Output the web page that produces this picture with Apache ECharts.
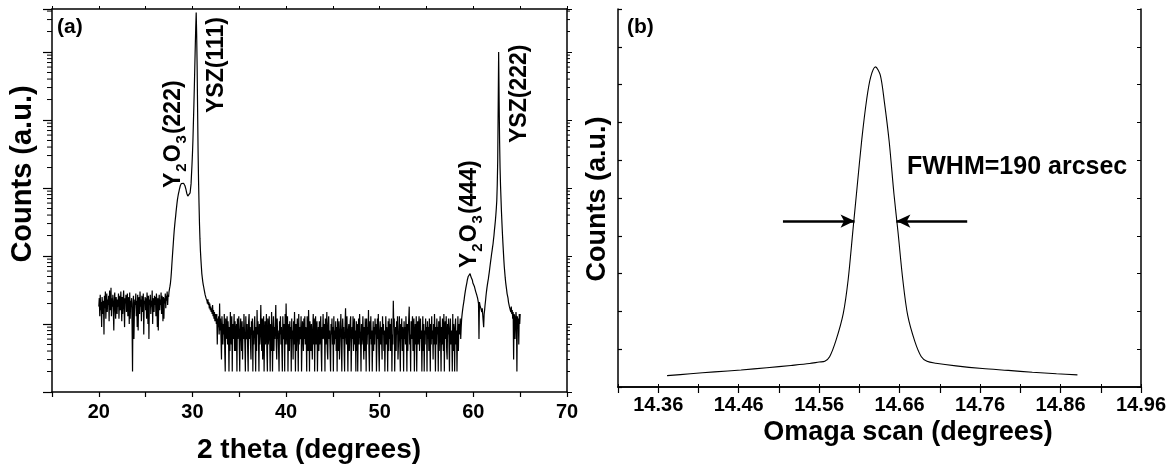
<!DOCTYPE html>
<html>
<head>
<meta charset="utf-8">
<script src="https://cdn.jsdelivr.net/npm/echarts@6/dist/echarts.min.js"></script>
<style>
html,body{margin:0;padding:0;background:#fff;}
#chart{width:1175px;height:468px;}
</style>
</head>
<body>
<div id="chart"></div>
<script>
// ---------- Panel (a): XRD 2theta scan ----------
const THETA_START = 20;      // first 2theta of the scan (deg)
const THETA_STEP = 0.05;     // scan step (deg)
const countsA = [
  // 20.00 - 27.45 : background
  18,24,13,27,16,21,9,25,19,14,
  22,7,26,17,30,12,20,28,15,23,
  19,26,11,31,21,16,34,13,24,18,
  27,15,8,22,29,17,12,25,20,14,
  23,18,28,12,21,26,16,30,19,11,
  25,14,22,31,17,9,24,20,27,15,
  21,28,13,19,25,10,29,12,22,18,
  24,10,2,20,26,6,15,23,19,28,
  13,22,9,27,8,21,25,14,30,18,
  23,11,26,19,15,28,7,22,20,25,
  16,24,12,29,21,10,26,6,23,19,
  27,14,22,18,31,10,24,20,15,26,
  19,25,13,28,22,9,24,8,21,27,
  16,23,19,29,14,26,21,11,25,12,
  24,20,28,17,26,22,30,19,27,25,
  // 27.50 - 31.50 : Y2O3(222) + YSZ(111)
  30,33,36,40,47,58,75,95,120,150,
  190,235,280,330,380,450,520,600,680,750,
  820,880,950,1010,1080,1120,1160,1185,1200,1205,
  1190,1175,1150,1120,1080,1020,960,890,830,790,
  760,745,740,760,800,850,900,1150,1600,2200,
  3200,5000,9000,16000,30000,60000,120000,230000,380000,180000,
  60000,14000,3500,1300,600,300,180,120,90,70,
  55,48,42,38,35,32,30,27,26,24,
  23,
  // 31.55 - 58.60 : background
  22,20,23,19,21,17,20,16,18,15,
  17,14,19,13,16,12,15,11,14,13,
  10,14,5,12,9,13,7,20,8,12,
  6,3,13,9,5,10,7,14,4,2,
  12,6,8,13,5,11,7,2,9,4,
  15,7,5,13,2,10,6,8,14,4,
  11,4,7,10,2,12,6,9,13,5,
  2,8,12,7,4,11,3,9,6,14,
  8,5,2,13,7,6,10,4,2,11,
  14,6,9,5,3,11,7,12,2,8,
  5,10,13,6,2,9,4,16,7,11,
  6,2,10,5,8,19,7,4,12,3,
  9,13,2,6,11,5,8,14,4,2,
  12,5,7,13,6,2,10,4,15,8,
  2,7,13,4,9,6,11,19,5,3,
  12,6,8,4,2,11,7,13,5,9,
  4,2,13,7,6,10,2,14,5,20,
  8,5,13,2,7,10,4,11,6,9,
  2,12,6,8,3,11,5,15,7,2,
  10,4,8,12,6,2,14,5,9,6,
  7,13,2,5,11,8,4,12,6,13,
  5,9,7,2,13,6,4,16,8,2,
  11,7,4,10,6,3,9,14,5,12,
  2,8,13,5,7,11,2,6,9,4,
  11,5,8,13,4,2,9,6,14,7,
  6,10,2,12,5,8,15,4,3,10,
  13,6,8,4,2,10,7,12,5,9,
  2,13,5,8,6,11,4,9,2,12,
  7,4,11,3,6,9,14,5,2,8,
  12,6,9,4,2,10,17,7,5,13,
  6,2,8,10,4,7,11,13,2,5,
  9,6,13,4,7,12,5,8,2,11,
  4,10,2,7,12,5,14,8,6,2,
  10,5,7,13,6,3,9,4,12,8,
  2,12,5,9,7,16,4,2,11,6,
  13,5,8,2,6,11,4,9,5,12,
  7,10,2,5,12,6,14,4,2,8,
  11,5,9,6,3,13,7,10,4,8,
  2,6,13,5,9,7,2,11,4,12,
  6,10,4,8,12,2,7,5,22,9,
  12,2,6,9,4,11,7,13,3,5,
  8,13,5,2,10,6,12,4,9,7,
  2,11,6,9,5,13,7,2,10,4,
  8,12,18,5,7,2,11,6,9,13,
  4,8,12,2,6,10,5,13,2,7,
  11,5,9,13,4,7,12,6,8,2,
  6,13,4,10,2,8,5,12,7,9,
  2,11,6,9,4,12,7,2,10,5,
  13,6,8,3,10,5,14,7,2,9,
  5,12,7,9,2,11,4,8,13,6,
  2,9,5,12,7,4,14,2,8,11,
  6,13,4,3,10,7,12,5,2,9,
  12,5,8,6,2,14,4,10,7,2,
  9,12,5,8,2,6,13,4,10,7,
  9,12,
  // 58.65 - 65.00 : Y2O3(444) + YSZ(222)
  6,9,12,14,16,18,20,
  22,25,28,31,34,37,40,44,46,50,
  52,47,48,55,56,49,50,46,44,40,
  38,42,36,34,35,30,31,27,26,24,
  22,20,6,21,19,20,17,18,15,17,
  16,11,9,14,16,19,22,26,30,34,
  38,42,46,52,58,66,75,85,95,108,
  120,135,150,175,200,240,280,330,400,500,
  650,1100,2500,15000,100000,20000,5000,2000,1100,700,
  450,310,220,160,120,90,70,58,48,41,
  36,32,28,26,24,21,20,18,17,19,
  15,18,14,16,12,15,3,14,13,6,
  10,15,12,2,13,9,12,5,14,10,
  14
];
const xTicksA = [20, 30, 40, 50, 60, 70];

// ---------- Panel (b): omega rocking curve ----------
const omega = [14.371,14.40,14.43,14.463,14.495,14.525,14.548,14.560,14.567,14.573,
  14.581,14.590,14.596,14.602,14.607,14.613,14.619,14.624,14.630,14.636,
  14.641,14.647,14.653,14.658,14.664,14.670,14.679,14.687,14.694,14.705,
  14.73,14.763,14.795,14.825,14.855,14.881];
const countsB = [0.30,0.35,0.40,0.45,0.51,0.57,0.62,0.66,0.68,0.80,
  1.24,1.95,2.83,4.15,5.25,6.55,7.60,8.20,8.47,8.25,
  7.55,6.50,5.10,4.10,2.83,1.90,1.20,0.80,0.68,0.63,
  0.56,0.49,0.44,0.39,0.35,0.32];
const xTicksB = ['14.36','14.46','14.56','14.66','14.76','14.86','14.96'];
const FWHM_LEVEL = 4.39;
const FWHM_LEFT = 14.604, FWHM_RIGHT = 14.656;
const FWHM_TEXT = 'FWHM=190 arcsec';

// ---------- build ----------
const FONT = '"Liberation Sans", Arial, sans-serif';
const xrdData = countsA.map((c, i) => [+(THETA_START + i * THETA_STEP).toFixed(2), c]);
const rockData = omega.map((o, i) => [o, countsB[i]]);

const A_MIN = 1, A_MAX = 4.29e5;
const logMinor = [];
for (let d = 0; d <= 5; d++) for (let k = 2; k <= 9; k++) {
  const v = k * Math.pow(10, d);
  if (v < A_MAX) logMinor.push([15, v]);
}

const chart = echarts.init(document.getElementById('chart'), null, {renderer: 'canvas'});
const black = '#000';
const lbl = {color: black, fontFamily: FONT, fontWeight: 'bold', fontSize: 20};

const option = {
  backgroundColor: '#fff',
  animation: false,
  grid: [
    {left: 52, top: 9, right: 608, bottom: 76},
    {left: 618, top: 9, right: 34, bottom: 81}
  ],
  xAxis: [
    {gridIndex: 0, type: 'value', min: 15, max: 70, interval: 5, position: 'bottom',
     axisLine: {lineStyle: {color: black, width: 1.5}},
     axisTick: {inside: false, length: 5, lineStyle: {color: black, width: 1.2}},
     axisLabel: Object.assign({}, lbl, {margin: 10,
       formatter: v => xTicksA.indexOf(Math.round(v)) >= 0 && Math.abs(v - Math.round(v)) < 1e-6 ? String(Math.round(v)) : ''}),
     splitLine: {show: false}},
    {gridIndex: 0, type: 'value', min: 15, max: 70, interval: 5, position: 'top',
     axisLine: {lineStyle: {color: black, width: 1.5}},
     axisTick: {inside: false, length: 3, lineStyle: {color: black, width: 1}},
     axisLabel: {show: false}, splitLine: {show: false}},
    {gridIndex: 1, type: 'value', min: 14.31, max: 14.96, interval: 0.05, position: 'bottom',
     axisLine: {lineStyle: {color: black, width: 1.5}},
     axisTick: {inside: false, length: 6, lineStyle: {color: black, width: 1.2}},
     axisLabel: Object.assign({}, lbl, {margin: 8, formatter: v => {
       const s = v.toFixed(2);
       return xTicksB.indexOf(s) >= 0 ? s : '';
     }}),
     splitLine: {show: false}},
    {gridIndex: 1, type: 'value', min: 14.31, max: 14.96, interval: 0.05, position: 'top',
     axisLine: {lineStyle: {color: black, width: 1.5}},
     axisTick: {inside: false, length: 3, lineStyle: {color: black, width: 1}},
     axisLabel: {show: false}, splitLine: {show: false}}
  ],
  yAxis: [
    {gridIndex: 0, type: 'log', logBase: 10, min: A_MIN, max: A_MAX, position: 'left',
     axisLine: {show: true, lineStyle: {color: black, width: 1.5}},
     axisTick: {show: true, inside: false, length: 9, lineStyle: {color: black, width: 1.2}},
     axisLabel: {show: false}, splitLine: {show: false}},
    {gridIndex: 0, type: 'log', logBase: 10, min: A_MIN, max: A_MAX, position: 'right',
     axisLine: {show: true, lineStyle: {color: black, width: 1.5}},
     axisTick: {show: true, inside: false, length: 5, lineStyle: {color: black, width: 1}},
     axisLabel: {show: false}, splitLine: {show: false}},
    {gridIndex: 1, type: 'value', min: 0, max: 10, interval: 1, position: 'left',
     axisLine: {show: true, lineStyle: {color: black, width: 1.5}},
     axisTick: {show: true, inside: true, length: 4, lineStyle: {color: black, width: 1.2}},
     axisLabel: {show: false}, splitLine: {show: false}},
    {gridIndex: 1, type: 'value', min: 0, max: 10, interval: 1, position: 'right',
     axisLine: {show: true, lineStyle: {color: black, width: 1.5}},
     axisTick: {show: true, inside: true, length: 4, lineStyle: {color: black, width: 1}},
     axisLabel: {show: false}, splitLine: {show: false}}
  ],
  series: [
    {type: 'line', xAxisIndex: 0, yAxisIndex: 0, data: xrdData, showSymbol: false,
     lineStyle: {color: black, width: 1.2}, silent: true, clip: true},
    {type: 'custom', xAxisIndex: 0, yAxisIndex: 0, data: logMinor, silent: true, clip: false,
     encode: {x: 0, y: 1},
     renderItem: (params, api) => {
       const v = api.value(1);
       const pl = api.coord([15, v]);
       const pr = api.coord([70, v]);
       return {type: 'group', children: [
         {type: 'line', shape: {x1: pl[0] - 5, y1: pl[1], x2: pl[0], y2: pl[1]}, style: {stroke: black, lineWidth: 1}},
         {type: 'line', shape: {x1: pr[0], y1: pr[1], x2: pr[0] + 3, y2: pr[1]}, style: {stroke: black, lineWidth: 1}}
       ]};
     }},
    {type: 'line', xAxisIndex: 2, yAxisIndex: 2, data: rockData, showSymbol: false, smooth: 0.3,
     lineStyle: {color: black, width: 1.1}, silent: true,
     markLine: {silent: true, symbol: ['none', 'arrow'], symbolSize: [10, 14],
       label: {show: false},
       lineStyle: {color: black, width: 2.5, type: 'solid'},
       emphasis: {disabled: true},
       data: [
         [{coord: [14.515, FWHM_LEVEL]}, {coord: [FWHM_LEFT, FWHM_LEVEL]}],
         [{coord: [14.744, FWHM_LEVEL]}, {coord: [FWHM_RIGHT, FWHM_LEVEL]}]
       ]}}
  ],
  graphic: [
    {type: 'text', left: 57, top: 17, style: {text: '(a)', font: 'bold 21px ' + FONT, fill: black}},
    {type: 'text', left: 627, top: 17, style: {text: '(b)', font: 'bold 21px ' + FONT, fill: black}},
    {type: 'text', x: 23, y: 174, rotation: Math.PI / 2,
     style: {text: 'Counts (a.u.)', font: 'bold 29px ' + FONT, fill: black, textAlign: 'center', textVerticalAlign: 'middle'}},
    {type: 'text', x: 598, y: 199, rotation: Math.PI / 2,
     style: {text: 'Counts (a.u.)', font: 'bold 27px ' + FONT, fill: black, textAlign: 'center', textVerticalAlign: 'middle'}},
    {type: 'text', x: 309, y: 450,
     style: {text: '2 theta (degrees)', font: 'bold 28px ' + FONT, fill: black, textAlign: 'center', textVerticalAlign: 'middle'}},
    {type: 'text', x: 908, y: 433,
     style: {text: 'Omaga scan (degrees)', font: 'bold 27px ' + FONT, fill: black, textAlign: 'center', textVerticalAlign: 'middle'}},
    {type: 'text', x: 907, y: 167,
     style: {text: FWHM_TEXT, font: 'bold 25px ' + FONT, fill: black, textAlign: 'left', textVerticalAlign: 'middle'}},
    {type: 'text', x: 217, y: 113, rotation: Math.PI / 2,
     style: {text: 'YSZ(111)', font: 'bold 23px ' + FONT, fill: black, textAlign: 'left', textVerticalAlign: 'middle'}},
    {type: 'text', x: 520, y: 143, rotation: Math.PI / 2,
     style: {text: 'YSZ(222)', font: 'bold 23px ' + FONT, fill: black, textAlign: 'left', textVerticalAlign: 'middle'}},
    {type: 'text', x: 174, y: 188, rotation: Math.PI / 2,
     style: {text: '{m|Y}{s|2}{m|O}{s|3}{m|(222)}', textAlign: 'left', textVerticalAlign: 'middle', fill: black,
       rich: {m: {font: 'bold 23px ' + FONT, fill: black},
              s: {font: 'bold 15px ' + FONT, fill: black, padding: [16, 1, 0, 1]}}}},
    {type: 'text', x: 470, y: 268, rotation: Math.PI / 2,
     style: {text: '{m|Y}{s|2}{m|O}{s|3}{m|(444)}', textAlign: 'left', textVerticalAlign: 'middle', fill: black,
       rich: {m: {font: 'bold 23px ' + FONT, fill: black},
              s: {font: 'bold 15px ' + FONT, fill: black, padding: [16, 1, 0, 1]}}}}
  ]
};
chart.setOption(option);
</script>
</body>
</html>
